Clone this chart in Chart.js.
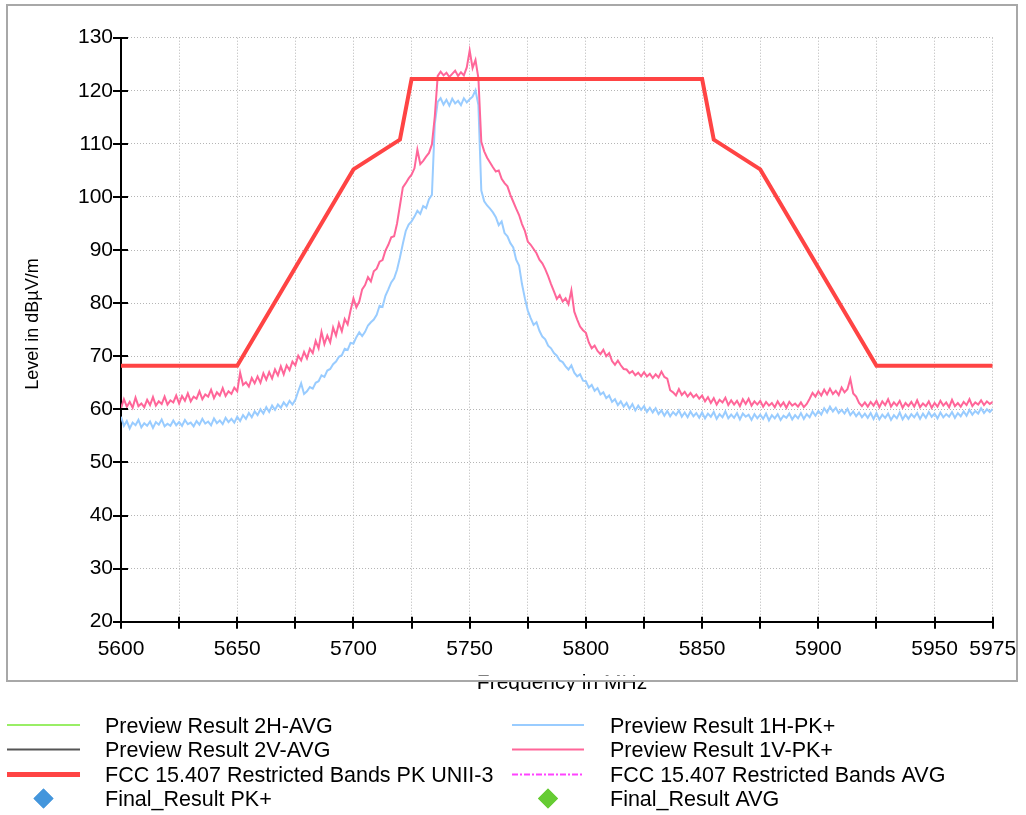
<!DOCTYPE html>
<html>
<head>
<meta charset="utf-8">
<title>Radiated emissions 5600-5975 MHz</title>
<script src="https://cdn.jsdelivr.net/npm/chart.js@4.4.1/dist/chart.umd.min.js"></script>
<style>
  html, body { margin: 0; padding: 0; background: #fff; }
  #wrap { width: 1026px; height: 815px; }
</style>
</head>
<body>
<div id="wrap"><canvas id="emiChart" width="1026" height="815"></canvas></div>
<script>
const FONT = '"Liberation Sans", Arial, Helvetica, sans-serif';

// sweep grid of the preview scans (MHz)
const sweepStart = 5600;
const sweepStep = 1.25;

// Preview Result 1V-PK+ (dBuV/m), one value per sweep step, 25 MHz per row
const v1PeakLevel = [
  60.2, 61.9, 60.5, 61.4, 60.3, 62.2, 60.6, 61.1, 60.4, 61.8, 60.8, 62.3, 60.7, 61.5, 61.0, 62.4, 60.9, 61.7, 61.3, 62.6,
  61.1, 62.5, 61.6, 63.0, 61.5, 62.4, 62.0, 63.4, 61.9, 62.8, 62.4, 63.7, 62.1, 63.2, 62.6, 64.0, 62.5, 63.4, 62.9, 64.1,
  63.4, 66.9, 64.6, 65.1, 64.3, 65.9, 64.9, 66.2, 65.0, 66.8, 65.6, 67.0, 65.8, 67.5, 66.4, 68.1, 66.6, 68.3, 67.4, 69.0,
  68.3, 70.1, 69.2, 70.8, 69.6, 71.4, 70.6, 72.9, 71.5, 74.6, 72.3, 73.9, 72.6, 75.4, 73.9, 76.2, 74.7, 77.0, 76.0, 78.6,
  80.9, 79.2, 80.3, 82.6, 83.4, 84.9, 84.1, 86.0, 86.5, 87.8, 88.1, 89.9, 91.0, 92.4, 92.6, 95.0, 98.4, 101.8, 102.6, 103.5,
  104.2, 105.4, 108.9, 106.2, 106.8, 107.6, 108.3, 109.9, 115.2, 122.8, 123.6, 122.9, 123.4, 122.6, 123.2, 123.8, 122.8, 123.5, 122.9, 124.4,
  127.6, 124.3, 125.8, 122.4, 110.4, 108.6, 107.4, 106.5, 105.6, 104.8, 105.0, 103.4, 102.6, 102.0, 100.4, 99.1, 97.8, 96.6, 94.9, 93.6,
  91.6, 91.0, 90.2, 89.4, 88.2, 87.5, 86.4, 85.1, 83.6, 82.2, 80.8, 81.5, 80.3, 80.9, 79.8, 82.4, 78.4, 76.9, 75.6, 74.9,
  74.4, 72.6, 71.5, 72.0, 71.0, 70.4, 71.2, 70.0, 70.6, 69.1, 68.4, 69.2, 68.3, 67.6, 67.5, 66.8, 67.2, 66.4, 66.9, 66.2,
  67.0, 66.2, 66.7, 65.9, 66.6, 66.0, 67.1, 66.1, 65.8, 63.6, 63.2, 62.6, 63.8, 62.7, 63.3, 62.4, 63.1, 62.3, 62.8, 62.0,
  62.6, 61.5, 62.3, 61.2, 62.1, 60.9, 61.8, 61.3, 62.2, 60.8, 61.7, 60.9, 61.6, 60.6, 61.9, 61.0, 62.0, 60.7, 61.5, 60.9,
  61.6, 60.5, 61.4, 60.7, 61.2, 60.4, 61.5, 60.6, 61.3, 60.3, 61.4, 60.7, 61.1, 60.5, 61.3, 60.4, 61.0, 62.0, 63.1, 62.4,
  63.4, 62.6, 63.7, 62.8, 63.9, 62.9, 63.5, 62.7, 64.1, 63.2, 63.8, 65.7, 63.0, 62.4, 61.2, 60.6, 61.3, 60.5, 61.4, 60.7,
  61.6, 60.4, 61.5, 60.8, 61.9, 60.5, 61.3, 60.7, 61.6, 60.3, 61.2, 60.6, 61.4, 60.5, 61.7, 60.4, 61.1, 60.6, 61.5, 60.3,
  61.2, 60.5, 61.6, 60.7, 61.3, 60.4, 61.8, 60.6, 61.2, 60.5, 61.4, 60.8, 61.9, 60.6, 61.3, 60.9, 61.7, 60.8, 61.5, 61.0,
  61.4
];

// Preview Result 1H-PK+ (dBuV/m)
const h1PeakLevel = [
  58.6, 56.9, 57.8, 56.4, 57.5, 57.0, 58.0, 56.6, 57.4, 56.9, 57.7, 56.5, 57.6, 57.1, 58.1, 56.8, 57.3, 56.9, 57.9, 57.0,
  57.6, 56.9, 58.0, 57.2, 57.5, 56.8, 57.8, 57.1, 58.2, 57.3, 57.7, 57.0, 58.3, 57.4, 57.9, 57.2, 58.4, 57.6, 58.2, 57.5,
  58.6, 57.8, 58.9, 58.2, 59.3, 58.5, 59.6, 58.9, 60.0, 59.2, 60.4, 59.5, 60.7, 59.9, 60.9, 60.3, 61.3, 60.6, 61.6, 60.9,
  61.8, 63.4, 64.9, 62.9, 63.4, 64.2, 63.9, 65.0, 65.3, 66.4, 66.1, 67.3, 67.6, 68.5, 69.0, 69.9, 70.2, 71.4, 71.2, 72.5,
  72.4, 73.6, 74.5, 73.8, 74.6, 75.8, 76.4, 76.9, 77.8, 79.5, 79.3, 81.4, 82.6, 83.9, 84.7, 86.3, 88.6, 91.2, 93.6, 94.8,
  95.4, 96.3, 97.4, 96.8, 98.3, 97.9, 99.6, 100.4, 113.8, 117.9, 118.6, 117.4, 118.3, 117.2, 118.5, 117.6, 118.1, 117.3, 118.6, 117.8,
  118.4, 118.9, 120.1, 117.3, 101.2, 99.2, 98.4, 97.8, 97.1, 96.2, 94.7, 95.4, 93.2, 92.6, 91.3, 90.5, 88.2, 87.1, 83.6, 80.9,
  78.6, 77.2, 75.9, 76.4, 74.8, 73.7, 73.2, 72.0, 71.5, 70.6, 70.1, 69.2, 68.9, 68.1, 67.5, 68.3, 66.9, 66.2, 66.6, 65.4,
  65.3, 64.1, 64.6, 63.5, 64.0, 62.8, 63.2, 62.1, 62.6, 61.4, 61.9, 60.8, 61.5, 60.5, 61.2, 60.1, 61.0, 59.8, 60.7, 59.9,
  60.6, 59.5, 60.3, 59.4, 60.2, 59.1, 59.8, 58.8, 59.7, 58.7, 59.5, 58.9, 59.8, 58.6, 59.4, 58.5, 59.6, 58.7, 59.3, 58.4,
  59.4, 58.3, 59.2, 58.6, 59.5, 58.2, 59.1, 58.5, 59.6, 58.3, 59.0, 58.4, 59.3, 58.1, 59.2, 58.6, 59.0, 58.0, 59.1, 58.3,
  59.0, 58.2, 59.2, 57.9, 58.9, 58.3, 59.1, 58.0, 58.8, 58.4, 59.2, 58.1, 58.9, 58.3, 59.3, 58.2, 59.1, 58.5, 59.6, 58.8,
  59.7, 59.0, 60.2, 59.4, 60.5, 59.6, 60.3, 59.3, 59.9, 59.2, 60.1, 58.9, 59.6, 58.7, 59.4, 58.5, 59.2, 58.4, 59.3, 58.2,
  59.3, 58.1, 59.0, 58.4, 59.2, 58.0, 58.9, 58.3, 59.4, 58.1, 59.0, 58.2, 59.1, 58.5, 59.3, 58.2, 59.2, 58.4, 59.5, 58.6,
  59.2, 58.3, 59.4, 58.5, 59.1, 58.6, 59.5, 58.4, 59.3, 58.7, 59.6, 58.8, 59.9, 59.0, 59.7, 59.2, 60.2, 59.3, 60.0, 59.5,
  60.1
];

// FCC 15.407 restricted band peak mask around UNII-3
const limitFreq = [5600, 5650, 5700, 5720, 5725, 5850, 5855, 5875, 5925, 5975];
const limitLevel = [68.2, 68.2, 105.2, 110.8, 122.2, 122.2, 110.8, 105.2, 68.2, 68.2];

// axis ranges and titles
const freqMin = 5600, freqMax = 5975, freqStep = 25;
const levelMin = 20, levelMax = 130, levelStep = 5;
const xTitle = 'Frequency in MHz';
const yTitle = 'Level in dBµV/m';

function sweep(levels) {
  return levels.map((v, i) => ({ x: sweepStart + i * sweepStep, y: v }));
}

const limitPoints = limitFreq.map((f, i) => ({ x: f, y: limitLevel[i] }));

const lineDefaults = { pointRadius: 0, tension: 0, fill: false, showLine: true };

const datasets = [
  { label: 'FCC 15.407 Restricted Bands PK UNII-3', data: limitPoints, borderColor: '#ff4444', borderWidth: 4, ...lineDefaults },
  { label: 'Preview Result 1V-PK+', data: sweep(v1PeakLevel), borderColor: '#ff6699', borderWidth: 2, ...lineDefaults },
  { label: 'Preview Result 1H-PK+', data: sweep(h1PeakLevel), borderColor: '#99ccff', borderWidth: 2, ...lineDefaults },
  { label: 'Preview Result 2H-AVG', data: [], borderColor: '#99ee66', borderWidth: 2, ...lineDefaults },
  { label: 'Preview Result 2V-AVG', data: [], borderColor: '#555555', borderWidth: 2, ...lineDefaults },
  { label: 'FCC 15.407 Restricted Bands AVG', data: [], borderColor: '#ff44ff', borderWidth: 2, borderDash: [6, 2, 2, 2], ...lineDefaults },
  { label: 'Final_Result PK+', data: [], borderColor: '#4496dc', backgroundColor: '#4496dc', showLine: false, pointStyle: 'rectRot', pointRadius: 10 },
  { label: 'Final_Result AVG', data: [], borderColor: '#66cc33', backgroundColor: '#66cc33', showLine: false, pointStyle: 'rectRot', pointRadius: 10 }
];

// two legend columns, read row by row
const legendRows = [
  ['Preview Result 2H-AVG', 'Preview Result 1H-PK+'],
  ['Preview Result 2V-AVG', 'Preview Result 1V-PK+'],
  ['FCC 15.407 Restricted Bands PK UNII-3', 'FCC 15.407 Restricted Bands AVG'],
  ['Final_Result PK+', 'Final_Result AVG']
];

// tick marks crossing the axes, axis titles, frame and legend
const decorations = {
  id: 'decorations',
  afterDraw(chart) {
    const ctx = chart.ctx;
    const area = chart.chartArea;
    const xs = chart.scales.x, ys = chart.scales.y;

    ctx.save();
    ctx.strokeStyle = '#000';
    ctx.lineWidth = 2;
    ctx.beginPath();
    ys.ticks.forEach(t => {
      const py = Math.round(ys.getPixelForValue(t.value));
      const major = t.value % 10 === 0;
      ctx.moveTo(area.left - (major ? 8 : 3), py);
      ctx.lineTo(area.left + 7, py);
    });
    xs.ticks.forEach(t => {
      const px = Math.round(xs.getPixelForValue(t.value));
      ctx.moveTo(px, area.bottom - 5);
      ctx.lineTo(px, area.bottom + 7);
    });
    ctx.stroke();

    // axis titles
    ctx.fillStyle = '#000';
    ctx.textAlign = 'center';
    ctx.font = '18px ' + FONT;
    ctx.save();
    ctx.translate(33, 324);
    ctx.rotate(-Math.PI / 2);
    ctx.textBaseline = 'middle';
    ctx.fillText(yTitle, 0, 0);
    ctx.restore();
    ctx.font = '21px ' + FONT;
    ctx.textBaseline = 'alphabetic';
    ctx.fillText(xTitle, 562, 689);

    // the x title sits under the panel edge and the legend box
    ctx.fillStyle = '#fff';
    ctx.fillRect(8, 675.5, 1008, 4.5);
    ctx.fillRect(8, 691, 1008, 7);
    ctx.strokeStyle = '#a8a8a8';
    ctx.lineWidth = 2;
    ctx.strokeRect(7, 5, 1010, 676);

    // legend
    const colX = [[7, 80, 105], [512, 584, 610]];
    const rowY = [725, 749.5, 774.5, 798.5];
    ctx.font = '21.5px ' + FONT;
    ctx.textBaseline = 'middle';
    ctx.textAlign = 'left';
    legendRows.forEach((row, r) => {
      row.forEach((label, c) => {
        const ds = chart.data.datasets.find(d => d.label === label);
        const [x0, x1, tx] = colX[c];
        const y = rowY[r];
        if (ds.showLine === false) {
          ctx.fillStyle = ds.backgroundColor;
          ctx.strokeStyle = ds.borderColor;
          Chart.helpers.drawPoint(ctx, { pointStyle: 'rectRot', radius: 10, rotation: 0, borderWidth: 0 }, (x0 + x1) / 2, y);
          ctx.fill();
        } else {
          ctx.strokeStyle = ds.borderColor;
          ctx.lineWidth = ds.borderWidth === 4 ? 5 : 2;
          ctx.setLineDash(ds.borderDash || []);
          ctx.beginPath();
          ctx.moveTo(x0, y);
          ctx.lineTo(x1, y);
          ctx.stroke();
          ctx.setLineDash([]);
        }
        ctx.fillStyle = '#000';
        ctx.fillText(label, tx, y + 2);
      });
    });
    ctx.restore();
  }
};

const ctx = document.getElementById('emiChart').getContext('2d');
const emiChart = new Chart(ctx, {
  type: 'scatter',
  data: { datasets: datasets },
  options: {
    responsive: false,
    animation: false,
    devicePixelRatio: 1,
    layout: { padding: { left: 0, top: 37.7, right: 33.3, bottom: 115 } },
    plugins: { legend: { display: false }, tooltip: { enabled: false } },
    scales: {
      x: {
        type: 'linear',
        min: freqMin,
        max: freqMax,
        afterFit(scale) { scale.height = 78.3; },
        ticks: {
          stepSize: freqStep,
          autoSkip: false,
          maxRotation: 0,
          padding: 0,
          color: '#000',
          font: { family: FONT, size: 21 },
          callback: v => (v % 50 === 0 || v === freqMax) ? String(v) : ''
        },
        // invisible tick length keeps the labels clear of the axis
        grid: { color: '#b5b5b5', lineWidth: 1, drawTicks: true, tickLength: 15, tickColor: 'rgba(0,0,0,0)' },
        border: { color: '#000', width: 2, dash: [1, 2] }
      },
      y: {
        min: levelMin,
        max: levelMax,
        afterFit(scale) { scale.width = 121; },
        ticks: {
          stepSize: levelStep,
          padding: 8,
          color: '#000',
          font: { family: FONT, size: 21 },
          callback: v => v % 10 === 0 ? String(v) : ''
        },
        grid: { color: '#b5b5b5', lineWidth: 1, drawTicks: false },
        border: { color: '#000', width: 2, dash: [1, 2] }
      }
    }
  },
  plugins: [decorations]
});
</script>
</body>
</html>
